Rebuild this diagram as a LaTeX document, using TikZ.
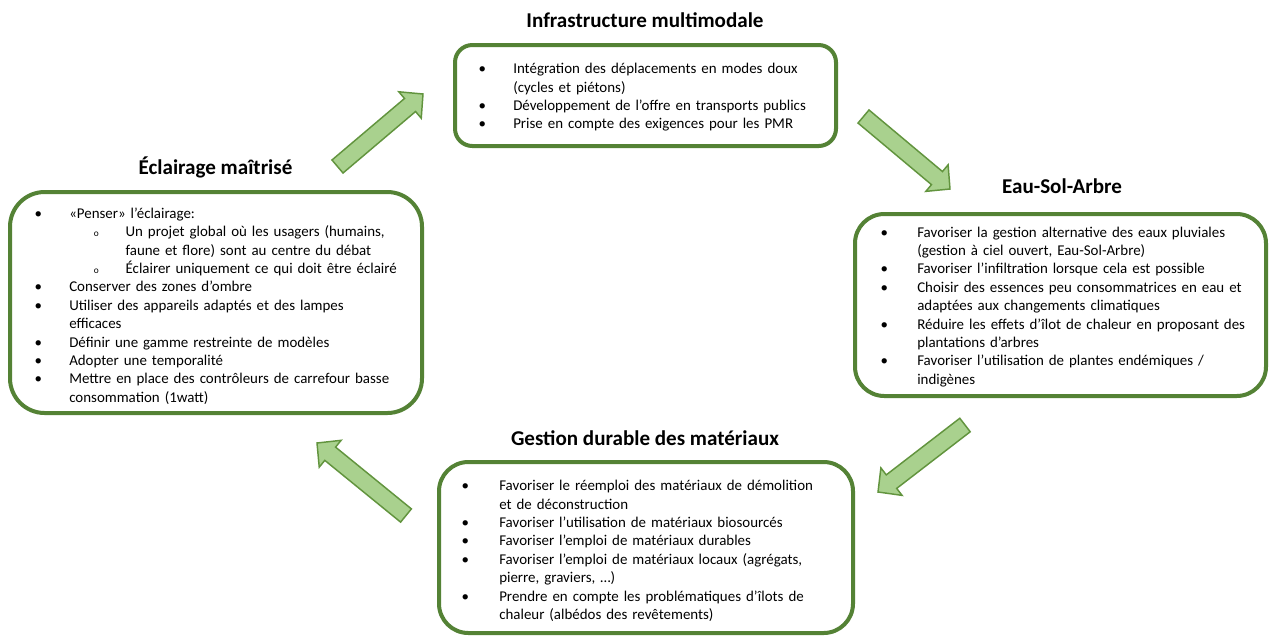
\documentclass[tikz,border=0pt]{standalone}
\usepackage{fontspec}
\setmainfont{Carlito}
\usetikzlibrary{calc}
\definecolor{boxgreen}{RGB}{84,130,53}
\definecolor{arrfill}{RGB}{169,209,142}
\definecolor{arrline}{RGB}{98,148,62}
\newlength\ind
\newcommand\bi[1]{\par\noindent\hangindent=\ind\hangafter=1\makebox[\ind][l]{\rule{0pt}{10pt}\makebox[0pt]{\textbullet}}#1\par}
\newcommand\si[1]{\par\noindent\hangindent=65.5pt\hangafter=1\hspace*{43.5pt}\makebox[22pt][l]{\rule{0pt}{10pt}\makebox[0pt]{\fontsize{7}{7}\selectfont o}}#1\par}
\newcommand\blockarrow[2]{%
  \coordinate (hb) at ($(#2)!12.75pt!(#1)$);
  \draw[arrowshape]
    ($(#1)!6.4pt!90:(#2)$) -- ($(hb)!6.4pt!-90:(#1)$) -- ($(hb)!13pt!-90:(#1)$) -- (#2)
    -- ($(hb)!13pt!90:(#1)$) -- ($(hb)!6.4pt!90:(#1)$) -- ($(#1)!6.4pt!-90:(#2)$) -- cycle;}
\tikzset{
  box/.style={draw=boxgreen, line width=3pt, fill=white},
  txt/.style={anchor=north west, inner sep=0pt, text width=330pt, align=left,
              font=\fontsize{11.2}{13.8}\selectfont},
  ttl/.style={inner sep=0pt, font=\fontsize{15.8}{18}\selectfont\bfseries},
  arrowshape/.style={fill=arrfill, draw=arrline, line width=1.1pt, line join=miter},
}
\begin{document}
\begin{tikzpicture}[x=0.75pt,y=-0.75pt]
\useasboundingbox[fill=white] (0,0) rectangle (1271,637);

% boxes
\draw[box, rounded corners=13pt] (455,45) rectangle (836,146);
\node[inner sep=0pt] (infra) at (645.5,95.5) {};
\draw[box, rounded corners=22pt] (855,214) rectangle (1266,396);
\node[inner sep=0pt] (eau) at (1060.5,305) {};
\draw[box, rounded corners=22pt] (439,462) rectangle (853,633);
\node[inner sep=0pt] (gestion) at (646,547.5) {};
\draw[box, rounded corners=26pt] (10,192) rectangle (422,413);
\node[inner sep=0pt] (eclair) at (216,302.5) {};

% titles
\node[ttl] (tinfra) at (645,20) {Infrastructure multimodale};
\node[ttl] (teau) at (1062,186) {Eau-Sol-Arbre};
\node[ttl] (tgest) at (645,438) {Gestion durable des matériaux};
\node[ttl] (tecl) at (215.5,167) {Éclairage maîtrisé};

% texts
\node[txt] (xinfra) at (482,55) {\setlength\ind{23.25pt}%
\bi{Intégration des déplacements en modes doux\newline (cycles et piétons)}
\bi{Développement de l’offre en transports publics}
\bi{Prise en compte des exigences pour les PMR}};

\node[txt] (xeau) at (884,218.5) {\setlength\ind{24.75pt}%
\bi{Favoriser la gestion alternative des eaux pluviales\newline (gestion à ciel ouvert, Eau-Sol-Arbre)}
\bi{Favoriser l’infiltration lorsque cela est possible}
\bi{Choisir des essences peu consommatrices en eau et\newline adaptées aux changements climatiques}
\bi{Réduire les effets d’îlot de chaleur en proposant des\newline plantations d’arbres}
\bi{Favoriser l’utilisation de plantes endémiques /\newline indigènes}};

\node[txt] (xgest) at (465,472) {\setlength\ind{25.5pt}%
\bi{Favoriser le réemploi des matériaux de démolition\newline et de déconstruction}
\bi{Favoriser l’utilisation de matériaux biosourcés}
\bi{Favoriser l’emploi de matériaux durables}
\bi{Favoriser l’emploi de matériaux locaux (agrégats,\newline pierre, graviers, …)}
\bi{Prendre en compte les problématiques d’îlots de\newline chaleur (albédos des revêtements)}};

\node[txt] (xecl) at (38,199.7) {\setlength\ind{23.25pt}%
\bi{«Penser» l’éclairage:}
\si{Un projet global où les usagers (humains,\newline faune et flore) sont au centre du débat}
\si{Éclairer uniquement ce qui doit être éclairé}
\bi{Conserver des zones d’ombre}
\bi{Utiliser des appareils adaptés et des lampes\newline efficaces}
\bi{Définir une gamme restreinte de modèles}
\bi{Adopter une temporalité}
\bi{Mettre en place des contrôleurs de carrefour basse\newline consommation (1watt)}};

% arrows
\coordinate (a1t) at (337.5,166.5); \coordinate (a1h) at (423,94);
\coordinate (a2t) at (863.5,116.5); \coordinate (a2h) at (950,189);
\coordinate (a3t) at (965,425);     \coordinate (a3h) at (878,492);
\coordinate (a4t) at (406,515.5);   \coordinate (a4h) at (317,443);
\blockarrow{a1t}{a1h}
\blockarrow{a2t}{a2h}
\blockarrow{a3t}{a3h}
\blockarrow{a4t}{a4h}
\end{tikzpicture}
\end{document}
